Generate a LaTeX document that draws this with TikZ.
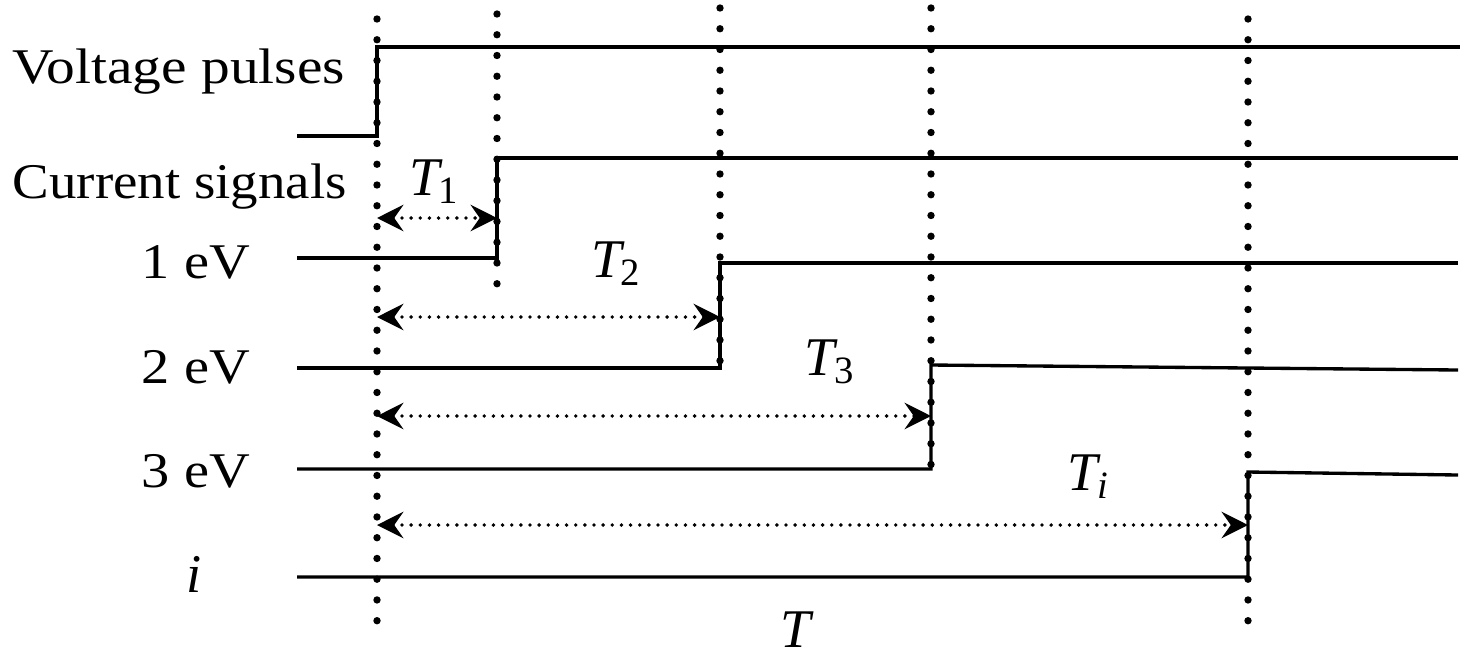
\documentclass[tikz,border=0pt]{standalone}
\usepackage{fontspec}
\setmainfont{Liberation Serif}
\usetikzlibrary{arrows.meta}

\newcommand{\tsub}[2]{\textit{#1}\kern-1.2pt\raisebox{-2.5pt}{\fontsize{11}{13}\selectfont #2}}

\tikzset{
  sig/.style={line width=0.95pt},
  mark line/.style={line width=2.1pt, line cap=round, dash pattern=on 0pt off 5.9pt},
  span/.style={line width=1.1pt, line cap=round, dash pattern=on 0pt off 2.6pt,
    {Stealth[length=7.5pt,width=7.5pt,inset=2.6pt]}-{Stealth[length=7.5pt,width=7.5pt,inset=2.6pt]}},
  lab/.style={font=\fontsize{14.2}{17}\selectfont, inner sep=0pt},
  tlab/.style={font=\fontsize{15.5}{18}\selectfont, inner sep=0pt}
}

\begin{document}
\begin{tikzpicture}[x=0.01cm,y=-0.01cm]
  \useasboundingbox (0,0) rectangle (1476,666);

  % dotted time marks
  \draw[mark line] (377,19) -- (377,631);
  \draw[mark line] (497,14) -- (497,288);
  \draw[mark line] (720,8) -- (720,368);
  \draw[mark line] (931,8) -- (931,469);
  \draw[mark line] (1248,19) -- (1248,631);

  % signals
  \draw[sig] (297,136) -- (377,136) -- (377,47) -- (1460,47);
  \draw[sig] (297,258) -- (497,258) -- (497,158) -- (1458,158);
  \draw[sig] (297,368) -- (720,368) -- (720,263) -- (1458,263);
  \draw[sig] (297,469) -- (931,469) -- (931,365) -- (1458,370);
  \draw[sig] (297,577) -- (1248,577) -- (1248,472) -- (1458,475);

  % row labels
  \node[lab, anchor=base west] (volt) at (12,83) {\scalebox{1.15}[1]{Voltage pulses}};
  \node[lab, anchor=base west] (curr) at (12,198) {\scalebox{1.1}[1]{Current signals}};
  \node[lab, anchor=base] (ev1) at (196,278) {\scalebox{1.13}[1]{1 eV}};
  \node[lab, anchor=base] (ev2) at (196,383) {\scalebox{1.13}[1]{2 eV}};
  \node[lab, anchor=base] (ev3) at (196,487) {\scalebox{1.13}[1]{3 eV}};
  \node[tlab, anchor=base] (evi) at (194,592) {\textit{i}};

  % delays
  \coordinate (s1a) at (377,218); \coordinate (s1b) at (497,218);
  \coordinate (s2a) at (377,317); \coordinate (s2b) at (720,317);
  \coordinate (s3a) at (377,416); \coordinate (s3b) at (931,416);
  \coordinate (sia) at (377,525); \coordinate (sib) at (1248,525);
  \draw[span] (s1a) -- (s1b);
  \draw[span] (s2a) -- (s2b);
  \draw[span] (s3a) -- (s3b);
  \draw[span] (sia) -- (sib);

  \node[tlab, anchor=base] (t1) at (434,195) {\tsub{T}{1}};
  \node[tlab, anchor=base] (t2) at (616,277) {\tsub{T}{2}};
  \node[tlab, anchor=base] (t3) at (829,375) {\tsub{T}{3}};
  \node[tlab, anchor=base] (ti) at (1088,490) {\tsub{T}{\textit{i}}};
  \node[tlab, anchor=base] (tt) at (797,647) {\textit{T}};
\end{tikzpicture}
\end{document}
